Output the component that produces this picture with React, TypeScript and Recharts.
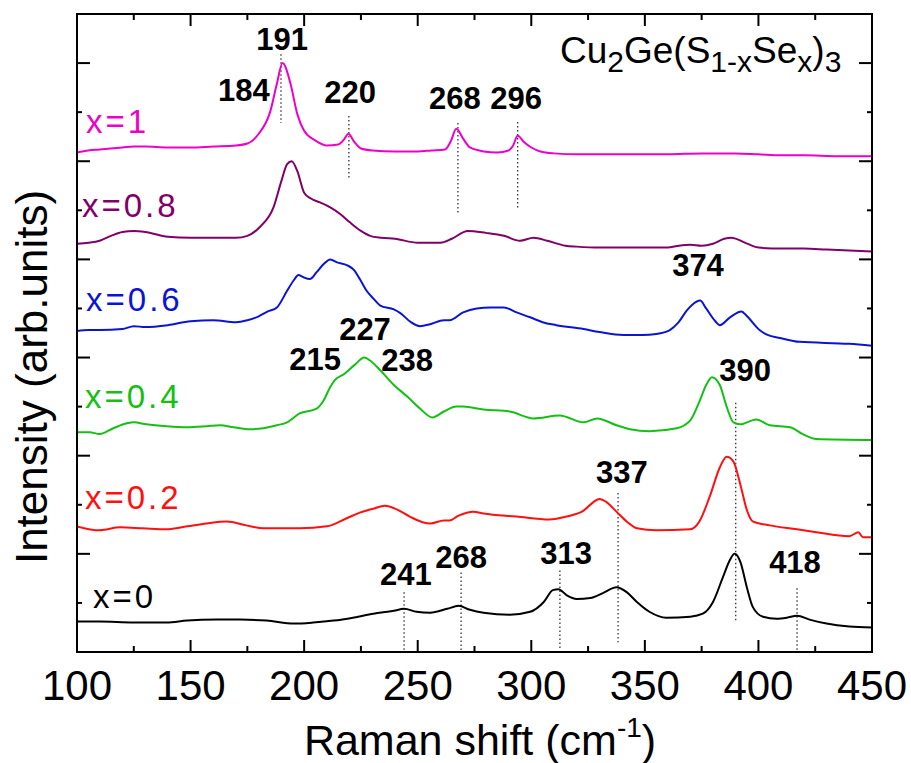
import { LineChart, Line, XAxis, YAxis, ReferenceLine, ReferenceDot } from "recharts";

// Raman spectra of Cu2Ge(S1-xSex)3, curves offset vertically (arb. units)
const xTicks = [100, 125, 150, 175, 200, 225, 250, 275, 300, 325, 350, 375, 400, 425, 450];
const yTicks = [0, 0.5, 1, 1.5, 2, 2.5, 3, 3.5, 4, 4.5, 5, 5.5, 6, 6.5];
const X_MIN = 100;
const X_MAX = 450;
const Y_MAX = 6.5;

const specX1: [number, number][] = [
  [100, 5.09], [105, 5.11], [110, 5.12], [120, 5.14], [125, 5.15], [130, 5.15], [140, 5.14],
  [150, 5.14], [160, 5.15], [170, 5.16], [175, 5.18], [180, 5.28], [185, 5.5], [188, 5.79],
  [190.5, 6.0], [194, 5.79], [197, 5.48], [200, 5.31], [205, 5.21], [210, 5.16], [215, 5.17],
  [217.5, 5.22], [219.5, 5.28], [222, 5.2], [225, 5.13], [230, 5.11], [240, 5.1], [250, 5.1],
  [256, 5.11], [262, 5.12], [264.5, 5.2], [267, 5.33], [270, 5.23], [273, 5.14], [279, 5.1],
  [285, 5.09], [290, 5.11], [292, 5.16], [294, 5.26], [297, 5.19], [300, 5.14], [304, 5.1],
  [310, 5.08], [320, 5.07], [340, 5.07], [360, 5.07], [375, 5.08], [390, 5.08], [400, 5.07],
  [410, 5.06], [420, 5.06], [435, 5.05], [450, 5.05],
];

const specX08: [number, number][] = [
  [100, 4.16], [105, 4.17], [110, 4.19], [115, 4.24], [120, 4.28], [125, 4.29], [130, 4.28],
  [140, 4.23], [150, 4.22], [160, 4.22], [170, 4.22], [175, 4.24], [180.5, 4.33], [186.5, 4.53],
  [190, 4.8], [192.5, 4.97], [194.5, 5.0], [197, 4.9], [200, 4.68], [203, 4.62], [207, 4.58],
  [211.5, 4.53], [216, 4.46], [220, 4.38], [225, 4.29], [229, 4.24], [234, 4.22], [240, 4.21],
  [250, 4.17], [260, 4.17], [265, 4.21], [272, 4.29], [280, 4.27], [288, 4.24], [295, 4.19],
  [301, 4.22], [307, 4.19], [315, 4.14], [320, 4.13], [330, 4.12], [340, 4.12], [350, 4.12],
  [360, 4.12], [365, 4.14], [370, 4.15], [375, 4.14], [380, 4.16], [385, 4.21], [388, 4.22],
  [395, 4.16], [400, 4.12], [410, 4.11], [420, 4.11], [430, 4.1], [450, 4.08],
];

const specX06: [number, number][] = [
  [100, 3.27], [105, 3.28], [110, 3.28], [120, 3.29], [125, 3.32], [130, 3.31], [140, 3.33],
  [150, 3.37], [160, 3.38], [170, 3.36], [175, 3.38], [180, 3.42], [184, 3.47], [188, 3.51],
  [192.5, 3.68], [195.5, 3.79], [197.5, 3.84], [199.5, 3.82], [202.5, 3.8], [205.5, 3.87],
  [208.5, 3.95], [211.5, 4.0], [214.5, 3.97], [219, 3.94], [222, 3.89], [224.5, 3.8],
  [227.5, 3.68], [230.5, 3.6], [233.5, 3.53], [239.5, 3.49], [242.5, 3.45], [247, 3.36],
  [251, 3.32], [255.5, 3.34], [261.5, 3.38], [264, 3.38], [270, 3.46], [276, 3.5], [282, 3.51],
  [288, 3.51], [293.5, 3.46], [299.5, 3.41], [305, 3.36], [311, 3.33], [323, 3.29], [330, 3.26],
  [340.5, 3.23], [349, 3.23], [355, 3.24], [361, 3.28], [364.5, 3.35], [368.5, 3.48], [371, 3.54],
  [374.3, 3.58], [377, 3.5], [380, 3.4], [383, 3.33], [387.5, 3.41], [392.5, 3.47], [395, 3.42],
  [400.5, 3.28], [404, 3.23], [409.5, 3.2], [418, 3.16], [440, 3.14], [450, 3.12],
];

const specX04: [number, number][] = [
  [100, 2.24], [105.5, 2.24], [110, 2.22], [116, 2.28], [122, 2.33], [125, 2.34], [130.5, 2.32],
  [139.5, 2.3], [148.5, 2.29], [157, 2.3], [163, 2.31], [169, 2.29], [176, 2.27], [182, 2.28],
  [188, 2.31], [192.5, 2.34], [198, 2.43], [205.5, 2.48], [208.5, 2.56], [211.5, 2.7],
  [213.5, 2.77], [217.5, 2.83], [222, 2.92], [226.5, 3.0], [229, 2.97], [233.5, 2.87],
  [239.5, 2.72], [245.5, 2.6], [251, 2.48], [256.5, 2.39], [261.5, 2.45], [267, 2.5], [270, 2.5],
  [279, 2.47], [290.5, 2.45], [301, 2.38], [312.5, 2.41], [323, 2.34], [329, 2.38], [337.5, 2.31],
  [343.5, 2.27], [352, 2.25], [364, 2.28], [370, 2.36], [374, 2.55], [377, 2.72], [379.5, 2.8],
  [383, 2.72], [386, 2.5], [389, 2.34], [392, 2.32], [399, 2.37], [405, 2.31], [414, 2.29],
  [419.5, 2.22], [425.5, 2.17], [450, 2.16],
];

const specX02: [number, number][] = [
  [100, 1.28], [110, 1.24], [119, 1.27], [129, 1.26], [139.5, 1.25], [148.5, 1.28], [157, 1.31],
  [166, 1.33], [174.5, 1.29], [182, 1.26], [198, 1.26], [210, 1.28], [218.5, 1.36], [224.5, 1.42],
  [230.5, 1.46], [235.5, 1.49], [241, 1.45], [246.5, 1.38], [252.5, 1.32], [255.5, 1.31],
  [261.5, 1.34], [264, 1.34], [268, 1.39], [274.5, 1.43], [279, 1.41], [293.5, 1.38], [308, 1.35],
  [315.5, 1.38], [323, 1.44], [327.5, 1.53], [330, 1.56], [333, 1.53], [337.5, 1.43], [342, 1.33],
  [346.5, 1.26], [355, 1.24], [370, 1.25], [374, 1.33], [378.5, 1.58], [383, 1.88], [386, 1.99],
  [389, 1.94], [392, 1.71], [395, 1.44], [397.5, 1.33], [405, 1.29], [417, 1.25], [425.5, 1.22],
  [440, 1.18], [444, 1.22], [446, 1.17], [450, 1.17],
];

const specX0: [number, number][] = [
  [100, 0.31], [110, 0.31], [125, 0.3], [139.5, 0.3], [148.5, 0.32], [161.5, 0.33], [172, 0.33],
  [183.5, 0.32], [195.5, 0.29], [204, 0.3], [213, 0.32], [221.5, 0.35], [230.5, 0.39], [239.5, 0.42],
  [244, 0.44], [249.5, 0.41], [255.5, 0.4], [263, 0.44], [268, 0.47], [273, 0.43], [279, 0.4],
  [290.5, 0.38], [299.5, 0.41], [305.5, 0.51], [309.5, 0.63], [312, 0.64], [315.5, 0.58],
  [320, 0.54], [326, 0.55], [331.5, 0.6], [337.5, 0.66], [342, 0.61], [346.5, 0.51], [352, 0.41],
  [359.5, 0.35], [370, 0.36], [375.5, 0.39], [380, 0.51], [384.5, 0.77], [387.5, 0.94],
  [389.5, 1.0], [392, 0.92], [395, 0.65], [397.5, 0.46], [402, 0.36], [408, 0.34], [412.5, 0.35],
  [417, 0.37], [422.5, 0.33], [430, 0.29], [440, 0.26], [450, 0.25],
];

const series = [
  { name: "x=1", color: "#EE00C8", points: specX1, labelAt: [104, 5.4] },
  { name: "x=0.8", color: "#800068", points: specX08, labelAt: [102.2, 4.55] },
  { name: "x=0.6", color: "#0A14D2", points: specX06, labelAt: [104, 3.59] },
  { name: "x=0.4", color: "#14C014", points: specX04, labelAt: [103.5, 2.6] },
  { name: "x=0.2", color: "#FF1010", points: specX02, labelAt: [103.5, 1.57] },
  { name: "x=0", color: "#000000", points: specX0, labelAt: [107, 0.57] },
];

// peak labels: text, x, y (data units)
const peakLabels: [string, number, number][] = [
  ["191", 190.3, 6.24], ["184", 173.5, 5.72], ["220", 220.2, 5.7], ["268", 266.4, 5.64],
  ["296", 293.3, 5.64], ["374", 373.4, 3.94], ["215", 204.8, 2.98], ["227", 226.8, 3.29],
  ["238", 245.3, 2.97], ["390", 394.1, 2.87], ["337", 339.9, 1.83], ["313", 315.3, 1.0],
  ["268", 269.1, 0.96], ["241", 244.8, 0.79], ["418", 416.1, 0.91],
];

// dotted markers: x, y from, y to
const peakMarkers: [number, number, number][] = [
  [189.8, 6.09, 5.39], [219.7, 5.46, 4.82], [267.7, 5.39, 4.47], [294.0, 5.4, 4.52],
  [390.0, 2.54, 0.31], [338.2, 1.62, 0.1], [312.6, 0.83, 0.04], [269.1, 0.81, 0],
  [244.0, 0.61, 0], [417.0, 0.65, 0],
];

const FONT = "'Liberation Sans', Arial, sans-serif";

// chart box
const W = 911;
const H = 763;
const M = { top: 14, right: 39, bottom: 110, left: 76 };
const AXIS_PX = 1;
const plot = {
  left: M.left + AXIS_PX,
  top: M.top,
  right: W - M.right,
  bottom: H - M.bottom - AXIS_PX,
};
const sx = (v: number) => plot.left + ((v - X_MIN) / (X_MAX - X_MIN)) * (plot.right - plot.left);
const sy = (v: number) => plot.bottom - (v / Y_MAX) * (plot.bottom - plot.top);

function BottomTick(props: any) {
  const { x, y, payload } = props;
  const major = payload.value % 50 === 0;
  return (
    <g>
      <line x1={x} y1={y} x2={x} y2={y - (major ? 12 : 6)} stroke="#000" strokeWidth={2} />
      {major && (
        <text x={x} y={y + 48} textAnchor="middle" fontSize={42} fontFamily={FONT} fill="#000">
          {payload.value}
        </text>
      )}
    </g>
  );
}

function LeftTick(props: any) {
  const { x, y, payload } = props;
  const major = Number.isInteger(payload.value);
  return <line x1={x} y1={y} x2={x + (major ? 13 : 5)} y2={y} stroke="#000" strokeWidth={2} />;
}

const axisLine = { stroke: "#000", strokeWidth: 2 };

export default function App() {
  return (
    <div style={{ position: "absolute", left: 0, top: 0, width: W, height: H, background: "#fff" }}>
      <LineChart width={W} height={H} margin={M}>
        <XAxis
          type="number"
          dataKey="x"
          domain={[X_MIN, X_MAX]}
          ticks={xTicks}
          interval={0}
          allowDataOverflow
          height={AXIS_PX}
          tickSize={0}
          tickMargin={0}
          tickLine={false}
          axisLine={axisLine}
          tick={BottomTick}
        />
        <YAxis
          type="number"
          domain={[0, Y_MAX]}
          ticks={yTicks}
          interval={0}
          allowDataOverflow
          width={AXIS_PX}
          tickSize={0}
          tickMargin={0}
          tickLine={false}
          axisLine={axisLine}
          tick={LeftTick}
        />

        {peakMarkers.map(([px, y1, y2], i) => (
          <ReferenceLine
            key={"m" + i}
            segment={[{ x: px, y: y1 }, { x: px, y: y2 }]}
            stroke="#333"
            strokeWidth={1.3}
            strokeDasharray="1.5 2.5"
          />
        ))}

        {series.map((s) => (
          <Line
            key={s.name}
            data={s.points.map(([x, y]) => ({ x, y }))}
            dataKey="y"
            type="monotone"
            stroke={s.color}
            strokeWidth={2}
            dot={false}
            isAnimationActive={false}
          />
        ))}

        {series.map((s) => (
          <ReferenceDot
            key={"l" + s.name}
            x={s.labelAt[0]}
            y={s.labelAt[1]}
            r={0}
            shape={(p: any) => (
              <text
                x={p.cx}
                y={p.cy}
                dominantBaseline="central"
                fontSize={33}
                letterSpacing={3}
                fontFamily={FONT}
                fill={s.color}
              >
                {s.name}
              </text>
            )}
          />
        ))}

        {peakLabels.map(([t, px, py], i) => (
          <ReferenceDot
            key={"p" + i}
            x={px}
            y={py}
            r={0}
            shape={(p: any) => (
              <text
                x={p.cx}
                y={p.cy}
                textAnchor="middle"
                dominantBaseline="central"
                fontSize={31}
                fontWeight="bold"
                fontFamily={FONT}
                fill="#000"
              >
                {t}
              </text>
            )}
          />
        ))}
      </LineChart>

      <svg
        width={W}
        height={H}
        style={{ position: "absolute", left: 0, top: 0, pointerEvents: "none" }}
        fontFamily={FONT}
      >
        {/* top and right edges of the frame with inward ticks */}
        <rect
          x={plot.left}
          y={plot.top}
          width={plot.right - plot.left}
          height={plot.bottom - plot.top}
          fill="none"
          stroke="#000"
          strokeWidth={2}
        />
        {xTicks.map((t) => (
          <line
            key={"tt" + t}
            x1={sx(t)}
            y1={plot.top}
            x2={sx(t)}
            y2={plot.top + (t % 50 === 0 ? 12 : 6)}
            stroke="#000"
            strokeWidth={2}
          />
        ))}
        {yTicks.map((v) => (
          <line
            key={"rt" + v}
            x1={plot.right}
            y1={sy(v)}
            x2={plot.right - (Number.isInteger(v) ? 13 : 5)}
            y2={sy(v)}
            stroke="#000"
            strokeWidth={2}
          />
        ))}

        <text x={560} y={63} fontSize={37} fill="#000">
          Cu<tspan dy={9} fontSize={30}>2</tspan>
          <tspan dy={-9}>Ge(S</tspan>
          <tspan dy={9} fontSize={30}>1-x</tspan>
          <tspan dy={-9}>Se</tspan>
          <tspan dy={9} fontSize={30}>x</tspan>
          <tspan dy={-9}>)</tspan>
          <tspan dy={9} fontSize={30}>3</tspan>
        </text>
        <text x={480} y={755} textAnchor="middle" fontSize={43} fill="#000">
          Raman shift (cm<tspan dy={-18} fontSize={28}>-1</tspan>
          <tspan dy={18}>)</tspan>
        </text>
        <text
          x={47}
          y={377}
          textAnchor="middle"
          fontSize={44}
          fill="#000"
          transform="rotate(-90, 47, 377)"
        >
          Intensity (arb.units)
        </text>
      </svg>
    </div>
  );
}
